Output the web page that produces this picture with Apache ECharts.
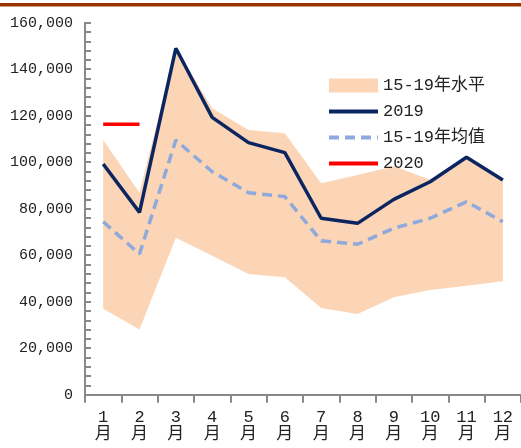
<!DOCTYPE html>
<html lang="zh">
<head>
    <meta charset="utf-8">
    <title>15-19年水平</title>
    <script src="https://cdn.jsdelivr.net/npm/echarts@6/dist/echarts.min.js"></script>
    <style>
        html, body { margin: 0; padding: 0; background: #fff; }
        #main { width: 521px; height: 448px; }
    </style>
</head>
<body>
<div id="main"></div>
<script>
    // 数据
    var months = ['1月', '2月', '3月', '4月', '5月', '6月', '7月', '8月', '9月', '10月', '11月', '12月'];
    var bandLow = [37000, 28000, 67500, 59800, 51900, 50500, 37300, 34700, 41900, 45000, 46900, 48800];
    var bandHigh = [109500, 86900, 149000, 123200, 113800, 112400, 90900, 94500, 98300, 92500, 102100, 92300];
    var y2019 = [99200, 78400, 149000, 119300, 108400, 104100, 75900, 73700, 84000, 91600, 102100, 92300];
    var avg1519 = [74400, 60500, 109500, 95900, 86900, 85200, 66200, 64700, 71600, 75900, 83000, 74400];
    var y2020 = [116300, 116300];

    var bandDiff = bandHigh.map(function (v, i) { return v - bandLow[i]; });

    var labelFont = 'Liberation Mono, Noto Sans CJK SC, monospace';

    var myChart = echarts.init(document.getElementById('main'));
    var option = {
        animation: false,
        graphic: [{
            type: 'rect',
            left: 0, top: 3,
            shape: { width: 521, height: 3.5 },
            style: { fill: '#993300' }
        }],
        grid: { left: 85, right: 0, top: 22.7, bottom: 53.3 },
        legend: {
            orient: 'vertical',
            left: 322,
            top: 72,
            itemWidth: 49,
            itemHeight: 14,
            itemGap: 9,
            itemStyle: { opacity: 0 },
            lineStyle: { width: 4 },
            textStyle: { fontSize: 17, color: '#222', fontFamily: labelFont },
            data: [
                { name: '15-19年水平', icon: 'rect', itemStyle: { color: '#fbd5b5', opacity: 1 } },
                '2019', '15-19年均值', '2020'
            ]
        },
        xAxis: {
            type: 'category',
            data: months,
            boundaryGap: true,
            axisLine: { lineStyle: { color: '#888', width: 2 } },
            axisTick: { show: true, inside: false, length: 8, lineStyle: { color: '#888', width: 2 } },
            axisLabel: {
                margin: 14,
                fontSize: 17,
                color: '#222',
                fontFamily: labelFont,
                lineHeight: 17,
                formatter: function (v) { return v.replace('月', '\n月'); }
            },
            splitLine: { show: false }
        },
        yAxis: {
            type: 'value',
            min: 0, max: 160000, interval: 20000,
            axisLine: { show: true, lineStyle: { color: '#888', width: 2 } },
            axisTick: { show: true, inside: true, length: 6, lineStyle: { color: '#888', width: 2 } },
            minorTick: { show: true, splitNumber: 5, length: 6, lineStyle: { color: '#888', width: 2 } },
            axisLabel: {
                margin: 12,
                fontSize: 15,
                color: '#222',
                fontFamily: labelFont,
                formatter: function (v) {
                    var s = String(v);
                    if (v >= 1000) {
                        s = s.slice(0, s.length - 3) + ',' + s.slice(s.length - 3);
                    }
                    return s;
                }
            },
            splitLine: { show: false }
        },
        series: [
            {
                name: 'low',
                type: 'line',
                stack: 'band',
                data: bandLow,
                symbol: 'none',
                lineStyle: { width: 0, opacity: 0 },
                silent: true
            },
            {
                name: '15-19年水平',
                type: 'line',
                stack: 'band',
                data: bandDiff,
                symbol: 'none',
                lineStyle: { width: 0, opacity: 0 },
                itemStyle: { color: '#fbd5b5' },
                areaStyle: { color: '#fbd5b5', opacity: 1 }
            },
            {
                name: '2019',
                type: 'line',
                data: y2019,
                symbol: 'none',
                itemStyle: { color: '#0b2561' },
                lineStyle: { color: '#0b2561', width: 3.5 }
            },
            {
                name: '15-19年均值',
                type: 'line',
                data: avg1519,
                symbol: 'none',
                itemStyle: { color: '#8ea9db' },
                lineStyle: { color: '#8ea9db', width: 3.5, type: [10, 6] }
            },
            {
                name: '2020',
                type: 'line',
                data: y2020,
                symbol: 'none',
                itemStyle: { color: '#ff0000' },
                lineStyle: { color: '#ff0000', width: 3.5 }
            }
        ]
    };
    myChart.setOption(option);
</script>
</body>
</html>
